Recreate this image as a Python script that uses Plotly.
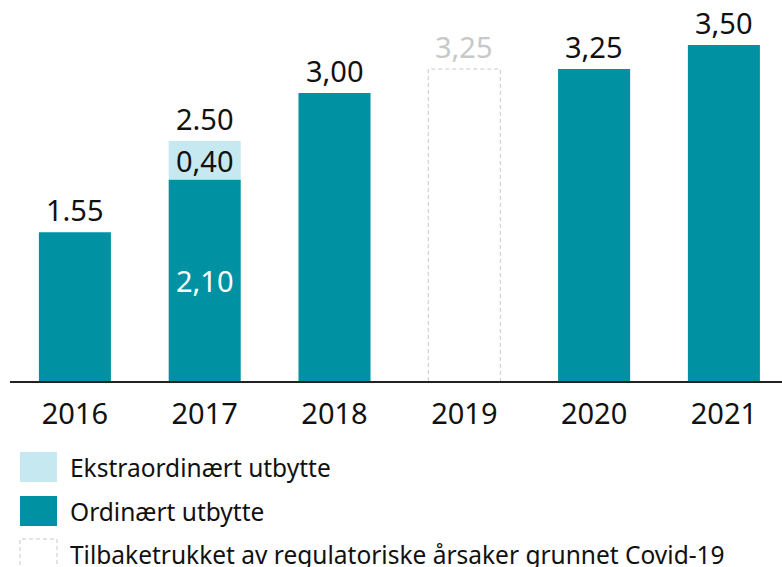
import plotly.graph_objects as go

# Dividend per share by year (NOK)
years = ["2016", "2017", "2018", "2019", "2020", "2021"]
ordinary = [1.55, 2.10, 3.00, 0.0, 3.25, 3.50]
extra = [0.0, 0.40, 0.0, 0.0, 0.0, 0.0]
withdrawn = [0.0, 0.0, 0.0, 3.25, 0.0, 0.0]
total_labels = ["1.55", "2.50", "3,00", "3,25", "3,25", "3,50"]
ordinary_inner_labels = ["", "2,10", "", "", "", ""]
extra_inner_labels = ["", "0,40", "", "", "", ""]
legend_labels = [
    "Ekstraordinært utbytte",
    "Ordinært utbytte",
    "Tilbaketrukket av regulatoriske årsaker grunnet Covid-19",
]

TEAL = "#0092A3"
LIGHT = "#C6E8F1"
GREY = "#C8C8C8"
FONT = "Noto Sans"

W, H = 782, 567
ML, MR, MT, MB = 10, 0, 0, 186
PLOT_H = H - MT - MB
PLOT_W = W - ML - MR
PX_PER_UNIT = 96.0
BAR_W = 0.555

x = list(range(len(years)))

fig = go.Figure()
fig.add_trace(go.Bar(x=x, y=ordinary, marker=dict(color=TEAL, line=dict(width=0)),
                     width=BAR_W, name=legend_labels[1], showlegend=False))
fig.add_trace(go.Bar(x=x, y=extra, base=ordinary, marker=dict(color=LIGHT, line=dict(width=0)),
                     width=BAR_W, name=legend_labels[0], showlegend=False))

# Withdrawn dividend drawn as a dashed outline
for i, v in enumerate(withdrawn):
    if v > 0:
        x0, x1 = i - BAR_W / 2, i + BAR_W / 2
        fig.add_trace(go.Scatter(x=[x0, x0, x1, x1], y=[0, v, v, 0], mode="lines",
                                 line=dict(color=GREY, width=1, dash="4px,3px"),
                                 showlegend=False, hoverinfo="skip"))

annotations = []
for i in x:
    top = ordinary[i] + extra[i] + withdrawn[i]
    annotations.append(dict(x=i, y=top, xref="x", yref="y", text=total_labels[i],
                            showarrow=False, yanchor="bottom", yshift=1,
                            font=dict(family=FONT, size=29,
                                      color=GREY if withdrawn[i] > 0 else "#111111")))
    if ordinary_inner_labels[i]:
        annotations.append(dict(x=i, y=ordinary[i] / 2, xref="x", yref="y",
                                text=ordinary_inner_labels[i], showarrow=False,
                                font=dict(family=FONT, size=29, color="white")))
    if extra_inner_labels[i]:
        annotations.append(dict(x=i, y=ordinary[i] + extra[i] / 2, xref="x", yref="y",
                                text=extra_inner_labels[i], showarrow=False,
                                font=dict(family=FONT, size=29, color="#111111")))


def py(p):
    return (MT + PLOT_H - p) / PLOT_H


def px(p):
    return (p - ML) / PLOT_W


# Legend drawn below the axis
shapes = []
legend_styles = [
    dict(fillcolor=LIGHT, line=dict(width=0)),
    dict(fillcolor=TEAL, line=dict(width=0)),
    dict(fillcolor="white", line=dict(color=GREY, width=1, dash="4px,3px")),
]
row_centers = [467, 511, 554]
for label, style, cy in zip(legend_labels, legend_styles, row_centers):
    shapes.append(dict(type="rect", xref="paper", yref="paper",
                       x0=px(20), x1=px(57), y0=py(cy + 15), y1=py(cy - 15), **style))
    annotations.append(dict(x=px(68), y=py(cy), xref="paper", yref="paper", text=label,
                            showarrow=False, xanchor="left", yanchor="middle",
                            font=dict(family=FONT, size=24.5, color="#111111")))

fig.update_layout(
    width=W, height=H,
    margin=dict(l=ML, r=MR, t=MT, b=MB),
    paper_bgcolor="white", plot_bgcolor="white",
    barmode="overlay",
    showlegend=False,
    annotations=annotations,
    shapes=shapes,
    xaxis=dict(range=[-0.5, -0.5 + PLOT_W / 129.8], tickvals=x, ticktext=years,
               showgrid=False, zeroline=False, showline=True, linecolor="#222222",
               linewidth=2, ticks="", ticklabelstandoff=6,
               tickfont=dict(family=FONT, size=29, color="#111111")),
    yaxis=dict(range=[0, PLOT_H / PX_PER_UNIT], visible=False, showgrid=False, zeroline=False),
)

fig.write_html("out.html")
